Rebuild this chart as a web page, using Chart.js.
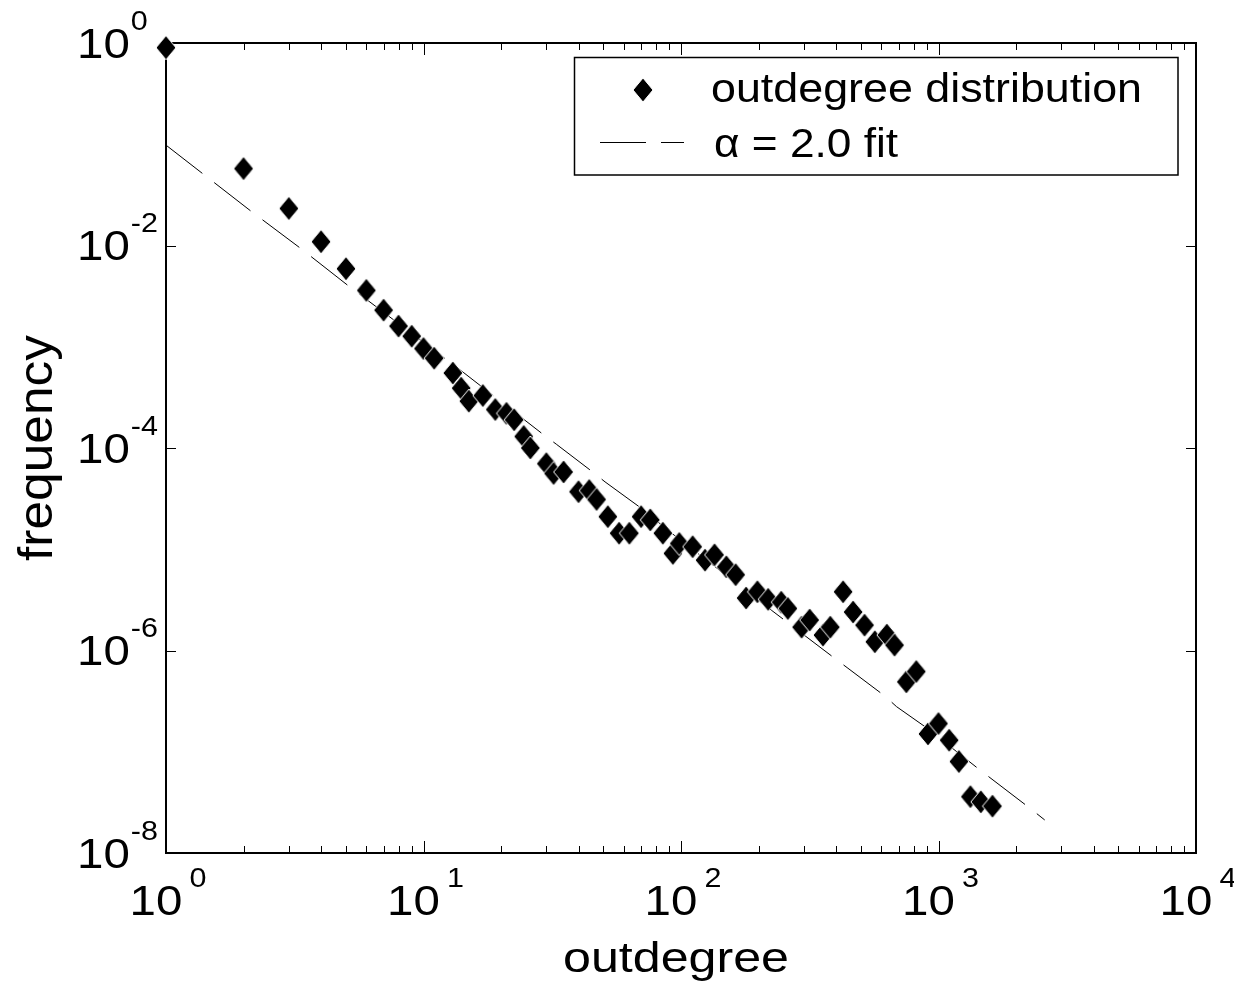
<!DOCTYPE html>
<html><head><meta charset="utf-8">
<script src="https://cdn.jsdelivr.net/npm/chart.js@4.4.1/dist/chart.umd.min.js"></script>
<style>html,body{margin:0;padding:0;background:#fff}canvas{display:block}</style>
</head><body>
<canvas id="c" width="1234" height="985"></canvas>
<script>
// ---- data ----
const outdegree = [1, 2, 3, 4, 5, 6, 7, 8, 9, 10, 11, 13, 14, 15, 17, 19, 21, 22.5, 24.5, 26,
  30, 32, 35, 40, 44, 47, 52, 57.5, 63, 70, 76, 85, 93, 98.5, 111, 124, 135, 150, 163, 179,
  198, 218, 245, 260, 294, 316, 356, 380, 426, 466, 516, 566, 630, 675, 750, 820, 910, 1000,
  1100, 1200, 1330, 1460, 1620];
const frequency = [0.9, 0.0575, 0.0232, 0.0109, 0.0059, 0.0036, 0.0023, 0.0016, 0.00127, 0.00096,
  0.00077, 0.00055, 0.00039, 0.00029, 0.00033, 0.00024, 0.00022, 0.00019, 0.00013, 0.0001,
  7.0e-5, 5.6e-5, 5.8e-5, 3.7e-5, 3.8e-5, 3.1e-5, 2.1e-5, 1.44e-5, 1.44e-5, 2.1e-5, 1.95e-5,
  1.44e-5, 9.1e-6, 1.14e-5, 1.06e-5, 7.8e-6, 8.8e-6, 6.7e-6, 5.6e-6, 3.3e-6, 3.8e-6, 3.2e-6,
  3.0e-6, 2.6e-6, 1.7e-6, 2.0e-6, 1.42e-6, 1.7e-6, 3.8e-6, 2.4e-6, 1.78e-6, 1.22e-6, 1.42e-6,
  1.13e-6, 4.9e-7, 6.2e-7, 1.5e-7, 1.9e-7, 1.3e-7, 8.0e-8, 3.6e-8, 3.2e-8, 2.9e-8];
const fitDegree = [1, 2.14, 3.34, 5.12, 13.8, 29.4, 32.8, 45.3, 50.7, 68.8, 94, 224, 395, 445,
  618, 687, 886, 1448, 2265, 2585];
const fitFrequency = [0.098, 0.0218, 0.00933, 0.00398, 5.97e-4, 1.34e-4, 1.09e-4, 5.82e-5,
  4.63e-5, 2.63e-5, 1.38e-5, 2.51e-6, 8.38e-7, 6.68e-7, 3.56e-7, 2.79e-7, 1.77e-7, 6.61e-8,
  2.77e-8, 2.12e-8];
const seriesLabels = ['outdegree distribution', '\u03B1 = 2.0 fit'];
const xTickExponents = [0, 1, 2, 3, 4];
const yTickExponents = [0, -2, -4, -6, -8];
const xTitle = 'outdegree';
const yTitle = 'frequency';

// ---- styling ----
const FONT = '"Liberation Sans", Arial, Helvetica, sans-serif';
const INK = '#000';
const HS = 1.13; // horizontal stretch of the reference's text

function makeDiamond(w, h) {
  const c = document.createElement('canvas');
  c.width = w + 2; c.height = h + 2;
  const g = c.getContext('2d');
  g.beginPath();
  g.moveTo(c.width / 2, 1);
  g.lineTo(c.width - 1, c.height / 2);
  g.lineTo(c.width / 2, c.height - 1);
  g.lineTo(1, c.height / 2);
  g.closePath();
  g.fillStyle = INK; g.fill();
  g.strokeStyle = '#fff'; g.lineWidth = 1; g.stroke();
  return c;
}
const diamond = makeDiamond(20, 24);

// draw text with a horizontal stretch; returns drawn width
function stretchText(ctx, text, x, y, size, hs, align) {
  ctx.font = size + 'px ' + FONT;
  ctx.textAlign = 'left';
  const w = ctx.measureText(text).width * hs;
  const sx = align === 'center' ? x - w / 2 : (align === 'right' ? x - w : x);
  ctx.save();
  ctx.translate(sx, y);
  ctx.scale(hs, 1);
  ctx.fillText(text, 0, 0);
  ctx.restore();
  return w;
}
function fitText(ctx, text, x, y, size, target, align) {
  ctx.font = size + 'px ' + FONT;
  const hs = target / ctx.measureText(text).width;
  return stretchText(ctx, text, x, y, size, hs, align);
}

function powLabel(ctx, exp, x, y, align, gap) {
  ctx.font = '42px ' + FONT; const w1 = ctx.measureText('10').width * HS;
  ctx.font = '27px ' + FONT; const w2 = ctx.measureText(String(exp)).width * HS;
  const total = w1 + gap + w2;
  const sx = align === 'center' ? x - total / 2 : x;
  stretchText(ctx, '10', sx, y, 42, HS, 'left');
  stretchText(ctx, String(exp), sx + w1 + gap, y - 28, 27, HS, 'left');
}

const axesPlugin = {
  id: 'axesBox',
  beforeDatasetsDraw(chart) {
    const ctx = chart.ctx, a = chart.chartArea;
    const xs = chart.scales.x, ys = chart.scales.y;
    ctx.save();
    ctx.strokeStyle = INK;
    ctx.lineWidth = 1;
    ctx.beginPath();
    for (let d = xTickExponents[0]; d <= xTickExponents[xTickExponents.length - 1]; d++) {
      for (let m = 1; m <= 9; m++) {
        const v = m * Math.pow(10, d);
        if (v > xs.max) break;
        const px = Math.round(xs.getPixelForValue(v)) + 0.5;
        const len = m === 1 ? 12 : 7;
        ctx.moveTo(px, a.bottom); ctx.lineTo(px, a.bottom - len);
        ctx.moveTo(px, a.top); ctx.lineTo(px, a.top + len);
      }
    }
    for (const e of yTickExponents) {
      const py = Math.round(ys.getPixelForValue(Math.pow(10, e))) + 0.5;
      ctx.moveTo(a.left, py); ctx.lineTo(a.left + 10, py);
      ctx.moveTo(a.right, py); ctx.lineTo(a.right - 10, py);
    }
    ctx.stroke();
    ctx.lineWidth = 2;
    ctx.strokeRect(a.left, a.top, a.right - a.left, a.bottom - a.top);
    ctx.restore();
  },
  afterDraw(chart) {
    const ctx = chart.ctx, a = chart.chartArea;
    const xs = chart.scales.x, ys = chart.scales.y;
    ctx.save();
    ctx.fillStyle = INK;
    ctx.textBaseline = 'alphabetic';
    for (const e of xTickExponents) {
      powLabel(ctx, e, xs.getPixelForValue(Math.pow(10, e)) + 2, 915, 'center', 7);
    }
    for (const e of yTickExponents) {
      powLabel(ctx, e, 77, ys.getPixelForValue(Math.pow(10, e)) + 14.5, 'left', 1);
    }
    // axis titles
    fitText(ctx, xTitle, 676, 972, 43, 226, 'center');
    ctx.save();
    ctx.translate(52, (a.top + a.bottom) / 2);
    ctx.rotate(-Math.PI / 2);
    fitText(ctx, yTitle, 0, 0, 49, 226, 'center');
    ctx.restore();
    // legend
    const lx = 574.5, ly = 57.5, lw = 603.5, lh = 117.5;
    ctx.fillStyle = '#fff';
    ctx.fillRect(lx, ly, lw, lh);
    ctx.strokeStyle = INK; ctx.lineWidth = 1.5;
    ctx.strokeRect(lx, ly, lw, lh);
    ctx.drawImage(diamond, 643 - diamond.width / 2, 90 - diamond.height / 2);
    ctx.lineWidth = 1; ctx.setLineDash([46, 15]);
    ctx.beginPath(); ctx.moveTo(600, 142.5); ctx.lineTo(684, 142.5); ctx.stroke();
    ctx.setLineDash([]);
    ctx.fillStyle = INK;
    fitText(ctx, chart.data.datasets[0].label, 711, 102, 41, 431, 'left');
    fitText(ctx, chart.data.datasets[1].label, 714, 157, 41, 184, 'left');
    ctx.restore();
  }
};

const scatterData = outdegree.map((x, i) => ({ x: x, y: frequency[i] }));
const fitData = fitDegree.map((x, i) => ({ x: x, y: fitFrequency[i] }));

new Chart(document.getElementById('c'), {
  type: 'scatter',
  data: {
    datasets: [
      {
        label: seriesLabels[0],
        data: scatterData,
        pointStyle: diamond,
        pointRadius: 12,
        backgroundColor: INK,
        borderColor: INK,
        showLine: false,
        clip: false,
        order: 0
      },
      {
        label: seriesLabels[1],
        type: 'line',
        data: fitData,
        borderColor: INK,
        borderWidth: 1,
        borderDash: [46, 15],
        pointRadius: 0,
        tension: 0,
        fill: false,
        showLine: true,
        order: 1
      }
    ]
  },
  options: {
    responsive: false,
    animation: false,
    devicePixelRatio: 1,
    layout: { padding: { left: 166, right: 38, top: 43, bottom: 132 } },
    scales: {
      x: { type: 'logarithmic', min: 1, max: 10000, display: false },
      y: { type: 'logarithmic', min: 1e-8, max: 1, display: false }
    },
    plugins: { legend: { display: false }, tooltip: { enabled: false } }
  },
  plugins: [axesPlugin]
});
</script>
</body></html>
